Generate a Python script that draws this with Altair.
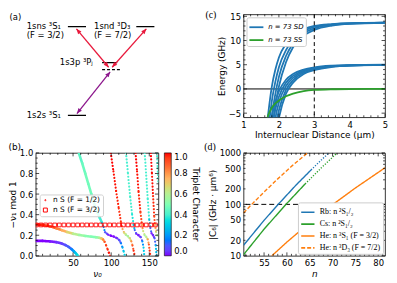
import math
import altair as alt
import pandas as pd

FONT = "DejaVu Sans"
SERIF = "Liberation Serif"
BLUE, GREEN, ORANGE = "#1f77b4", "#2ca02c", "#ff7f0e"
W_L, W_R, H = 124, 143, 104

# ---------------- (a) level scheme (diagram units) ----------------
a_level_x0 = [68, 136, 102, 102, 68]
a_level_x1 = [86, 154, 117, 120, 86]
a_level_y = [22, 22, 60.5, 68, 117]
a_level_style = ["solid", "solid", "solid", "dashed", "solid"]
a_label_text = ["1sns ³S₁", "(F = 3/2)", "1snd ³D₃", "(F = 7/2)", "1s3p ³Pⱼ", "1s2s ³S₁", "(a)"]
a_label_x = [27, 27, 94, 94, 60, 27, 10]
a_label_y = [21, 31.5, 21, 31.5, 60, 117, 12]
a_arrow_x0 = [108.5, 112, 110]
a_arrow_y0 = [65.5, 65.5, 70.5]
a_arrow_x1 = [76.5, 146, 77]
a_arrow_y1 = [24.5, 24.5, 115]
a_arrow_color = ["#e8193c", "#e8193c", "#8c168c"]

# ---------------- (b) Lu-Fano style branches ----------------
b_br1_nu = [1, 10, 20, 28, 35, 40, 44, 48, 51, 53, 55, 56.5]
b_br1_y = [0.145, 0.145, 0.14, 0.133, 0.12, 0.105, 0.088, 0.065, 0.045, 0.03, 0.012, 0.0]
b_br1_t = [0, 0, 0, 0.02, 0.04, 0.07, 0.1, 0.15, 0.2, 0.25, 0.32, 0.36]

b_br2_nu = [57.5, 62, 66, 70, 74, 78, 82, 85, 88, 90, 92, 96, 100, 104, 108, 111, 113, 115, 116.5, 118]
b_br2_y = [1.0, 0.9, 0.8, 0.7, 0.6, 0.5, 0.42, 0.37, 0.32, 0.28, 0.23, 0.205, 0.195, 0.185, 0.17, 0.15, 0.12, 0.08, 0.04, 0.0]
b_br2_t = [0.42, 0.45, 0.47, 0.48, 0.47, 0.45, 0.43, 0.4, 0.35, 0.25, 0.12, 0.03, 0, 0, 0.02, 0.06, 0.12, 0.2, 0.28, 0.35]

b_br3_nu = [1, 10, 20, 28, 35, 42, 50, 58, 66, 74, 80, 84, 87, 89.5, 91.5, 93.5, 95.5, 97, 98.5]
b_br3_y = [0.305, 0.3, 0.287, 0.268, 0.25, 0.232, 0.215, 0.203, 0.193, 0.186, 0.181, 0.176, 0.17, 0.158, 0.135, 0.1, 0.06, 0.03, 0.0]
b_br3_t = [1, 0.98, 0.93, 0.86, 0.8, 0.72, 0.64, 0.57, 0.52, 0.5, 0.5, 0.55, 0.65, 0.78, 0.88, 0.94, 0.97, 0.99, 1]

b_br4_nu = [99.5, 103, 106.5, 110, 113, 115, 117, 119.5, 122, 124.5, 126.5, 128, 129.5, 131]
b_br4_y = [1.0, 0.82, 0.63, 0.46, 0.32, 0.26, 0.225, 0.205, 0.19, 0.17, 0.14, 0.1, 0.05, 0.0]
b_br4_t = [1, 1, 0.99, 0.98, 0.96, 0.85, 0.72, 0.62, 0.56, 0.6, 0.75, 0.88, 0.95, 1]

b_br5_nu = [119.5, 122, 125, 127.5, 129.5, 131, 133, 136, 139, 141, 142.5, 143.5]
b_br5_y = [1.0, 0.8, 0.57, 0.4, 0.3, 0.25, 0.215, 0.2, 0.18, 0.14, 0.08, 0.0]
b_br5_t = [0.38, 0.4, 0.4, 0.38, 0.33, 0.2, 0.05, 0.0, 0.02, 0.12, 0.25, 0.35]

b_br6_nu = [132, 134, 136, 138.5, 140.5, 142, 144, 146, 148, 149.5, 150.5, 151.5]
b_br6_y = [1.0, 0.82, 0.62, 0.42, 0.3, 0.24, 0.2, 0.185, 0.16, 0.11, 0.05, 0.0]
b_br6_t = [1, 1, 0.99, 0.97, 0.9, 0.72, 0.58, 0.55, 0.7, 0.88, 0.96, 1]

b_br7_nu = [144, 146, 148, 150, 151.5, 153, 155, 157, 158.5, 159.5]
b_br7_y = [1.0, 0.78, 0.55, 0.35, 0.27, 0.22, 0.2, 0.17, 0.1, 0.0]
b_br7_t = [0.38, 0.4, 0.4, 0.36, 0.2, 0.03, 0.0, 0.05, 0.2, 0.35]

b_br8_nu = [152, 153.5, 155, 156.5, 157.5, 159, 160.5, 162]
b_br8_y = [1.0, 0.8, 0.58, 0.38, 0.3, 0.23, 0.2, 0.19]
b_br8_t = [1, 1, 0.99, 0.96, 0.88, 0.68, 0.58, 0.55]

b_br9_nu = [160, 161, 162]
b_br9_y = [1.0, 0.85, 0.7]
b_br9_t = [0.38, 0.4, 0.4]

b_sq_nu = [2, 8, 14, 20, 26, 32, 38, 44, 50, 56, 62, 68, 74, 80, 86, 92, 98,
           104, 110, 116, 122, 128, 134, 140, 146, 152, 158]
b_sq_level = 0.3
B_L1 = "n S (F = 1/2)"
B_L2 = "n S (F = 3/2)"

# ---------------- (c) pair potentials ----------------
c_R = [1.6, 1.7, 1.8, 1.9, 2.0, 2.2, 2.4, 2.7, 3.0, 3.5, 4.0, 5.0]
c_SD = [
    [-12, -5, 0.5, 4.0, 6.5, 9.3, 11.0, 12.3, 13.0, 13.4, 13.6, 13.7],
    [-16, -8.5, -2.5, 1.5, 4.5, 8.0, 10.2, 11.9, 12.8, 13.35, 13.55, 13.7],
    [-20, -12, -5.5, -1, 2.5, 6.8, 9.4, 11.5, 12.5, 13.25, 13.5, 13.7],
    [-25, -16, -9, -3.5, 0.5, 5.5, 8.6, 11.0, 12.2, 13.1, 13.45, 13.65],
    [-25, -13, -6, -2.6, -0.5, 1.9, 3.1, 4.0, 4.45, 4.8, 4.92, 5.0],
    [-30, -17, -8.5, -4.2, -1.6, 1.3, 2.7, 3.8, 4.3, 4.72, 4.88, 4.98],
    [-34, -20, -11, -6, -2.8, 0.6, 2.3, 3.6, 4.2, 4.68, 4.86, 4.97],
    [-38, -24, -14, -8, -4.4, -0.2, 1.8, 3.35, 4.05, 4.6, 4.83, 4.96],
    [-42, -28, -17, -10, -6, -1.0, 1.3, 3.1, 3.9, 4.55, 4.8, 4.95],
]
c_SS = [-8, -5.4, -3.9, -3.0, -2.4, -1.5, -0.95, -0.45, -0.2, -0.06, -0.02, 0.0]
C_SD = "n = 73 SD"
C_SS = "n = 73 SS"

# ---------------- (d) C6 coefficients ----------------
D_RB = "Rb: n ²S₁/₂"
D_CS = "Cs: n ²S₁/₂"
D_HES = "He: n ³S₁ (F = 3/2)"
D_HED = "He: n ³D₃ (F = 7/2)"
d_rb_n = [50.5, 55, 58.1, 62, 65.3]
d_rb_c6 = [16, 49, 100, 237, 467]
d_rb_dot_n = [65.3, 67.2, 69.2]
d_rb_dot_c6 = [467, 682, 1000]
d_cs_n = [50.5, 55, 59.8, 64]
d_cs_c6 = [10.5, 33, 100, 250]
d_cs_dot_n = [64, 67.5, 71]
d_cs_dot_c6 = [250, 508, 1000]
d_hes_n = [56.7, 60, 65, 70.1, 75, 81.5]
d_hes_c6 = [10, 18.5, 44, 100, 208, 515]
d_hed_n = [50.5, 52.3, 55, 58, 61, 64.5]
d_hed_c6 = [68, 100, 174, 313, 548, 1000]

rainbow = ["#8000ff", "#4062fa", "#00b4ec", "#40ecd4", "#80ffb4",
           "#c0ec8e", "#ffb462", "#ff6232", "#ff0000"]
rainbow_stops = [0, 0.125, 0.25, 0.375, 0.5, 0.625, 0.75, 0.875, 1.0]


def inward_ticks(xs, ys, xa, ya, xmaj, xmin, ymaj, ymin, w, h):
    out = []
    for vals, L in ((xmaj, 3.5), (xmin, 2.0)):
        d = pd.DataFrame({"tv": vals})
        for y0, y1 in ((h, h - L), (0, L)):
            out.append(alt.Chart(d).mark_rule(color="black", strokeWidth=0.7).encode(
                x=alt.X("tv:Q", scale=xs, axis=xa), y=alt.value(y0), y2=alt.value(y1)))
    for vals, L in ((ymaj, 3.5), (ymin, 2.0)):
        d = pd.DataFrame({"tv": vals})
        for x0, x1 in ((0, L), (w, w - L)):
            out.append(alt.Chart(d).mark_rule(color="black", strokeWidth=0.7).encode(
                y=alt.Y("tv:Q", scale=ys, axis=ya), x=alt.value(x0), x2=alt.value(x1)))
    return out


# ======================= panel (a) =======================
a_xs = alt.Scale(domain=[36, 158], nice=False, zero=False)
a_ys = alt.Scale(domain=[9, 119], nice=False, zero=False, reverse=True)
sx = W_L / (158 - 36)
sy = H / (119 - 9)

lev_df = pd.DataFrame({"x0": a_level_x0, "x1": a_level_x1, "y": a_level_y, "st": a_level_style})
lab_df = pd.DataFrame({"x": a_label_x, "y": a_label_y, "text": a_label_text})
arr_df = pd.DataFrame({"x0": a_arrow_x0, "y0": a_arrow_y0, "x1": a_arrow_x1,
                       "y1": a_arrow_y1, "color": a_arrow_color})
heads = []
for x0, y0, x1, y1, col in zip(a_arrow_x0, a_arrow_y0, a_arrow_x1, a_arrow_y1, a_arrow_color):
    vx, vy = (x1 - x0) * sx, (y1 - y0) * sy
    ang = math.degrees(math.atan2(vx, -vy)) % 360
    heads.append({"x": x1, "y": y1, "ang": ang, "color": col})
    heads.append({"x": x0, "y": y0, "ang": (ang + 180) % 360, "color": col})
head_df = pd.DataFrame(heads)
HEAD = "M0,0L-0.42,1L0.42,1Z"

a_levels = alt.Chart(lev_df).mark_rule(color="black", strokeWidth=1.3).encode(
    x=alt.X("x0:Q", scale=a_xs, axis=None), x2="x1:Q",
    y=alt.Y("y:Q", scale=a_ys, axis=None),
    strokeDash=alt.StrokeDash("st:N", scale=alt.Scale(domain=["solid", "dashed"], range=[[1, 0], [3, 2]]), legend=None))
a_labels = alt.Chart(lab_df).mark_text(align="left", baseline="middle", font=FONT, fontSize=8.5, color="black").encode(
    x=alt.X("x:Q", scale=a_xs, axis=None), y=alt.Y("y:Q", scale=a_ys, axis=None), text="text:N")
a_arrows = alt.Chart(arr_df).mark_rule(strokeWidth=1.3).encode(
    x=alt.X("x0:Q", scale=a_xs, axis=None), y=alt.Y("y0:Q", scale=a_ys, axis=None),
    x2="x1:Q", y2="y1:Q", color=alt.Color("color:N", scale=None))
a_heads = alt.Chart(head_df).mark_point(shape=HEAD, filled=True, size=110, opacity=1).encode(
    x=alt.X("x:Q", scale=a_xs, axis=None), y=alt.Y("y:Q", scale=a_ys, axis=None),
    angle=alt.Angle("ang:Q", scale=None), color=alt.Color("color:N", scale=None))
panel_a = alt.layer(a_levels, a_arrows, a_heads, a_labels).properties(
    width=W_L, height=H, view=alt.ViewBackground(strokeOpacity=0))

# ======================= panel (b) =======================
b_xs = alt.Scale(domain=[1, 162], nice=False, zero=False)
b_ys = alt.Scale(domain=[0, 1], nice=False, zero=False)
b_xa = alt.Axis(values=[50, 100, 150], title="ν₀", titleFontStyle="italic")
b_ya = alt.Axis(values=[0, 0.2, 0.4, 0.6, 0.8, 1.0], format=".1f", title="−ν₁ mod 1")
branches = [
    (b_br1_nu, b_br1_y, b_br1_t), (b_br2_nu, b_br2_y, b_br2_t), (b_br3_nu, b_br3_y, b_br3_t),
    (b_br4_nu, b_br4_y, b_br4_t), (b_br5_nu, b_br5_y, b_br5_t), (b_br6_nu, b_br6_y, b_br6_t),
    (b_br7_nu, b_br7_y, b_br7_t), (b_br8_nu, b_br8_y, b_br8_t), (b_br9_nu, b_br9_y, b_br9_t),
]
rows = []
for nu, yy, tt in branches:
    for i in range(len(nu) - 1):
        if nu[i] < 88:
            st = "s"
        else:
            slope = abs(yy[i + 1] - yy[i]) / max(abs(nu[i + 1] - nu[i]), 1e-6)
            st = "d" if slope > 0.015 else "c"
        rows.append({"x": nu[i], "y": yy[i], "x2": nu[i + 1], "y2": yy[i + 1],
                     "t": (tt[i] + tt[i + 1]) / 2, "st": st})
seg_df = pd.DataFrame(rows)
sq_df = pd.DataFrame({"x": b_sq_nu, "y": [b_sq_level] * len(b_sq_nu), "series": [B_L2] * len(b_sq_nu)})

cbar = alt.Legend(title="Triplet Character", orient="right", direction="vertical", offset=6,
                  gradientLength=H, gradientThickness=7, values=[0, 0.2, 0.4, 0.6, 0.8, 1.0],
                  format=".1f", titleOrient="right", titlePadding=3, labelOffset=3,
                  labelFontSize=8.5, titleFontSize=9, titleFontWeight="normal",
                  gradientStrokeColor="black", gradientStrokeWidth=0.6, labelOverlap=False, padding=0)
b_segs = alt.Chart(seg_df).mark_rule(strokeCap="round", clip=True).encode(
    x=alt.X("x:Q", scale=b_xs, axis=b_xa),
    y=alt.Y("y:Q", scale=b_ys, axis=b_ya),
    x2="x2:Q", y2="y2:Q",
    color=alt.Color("t:Q", scale=alt.Scale(domain=rainbow_stops, range=rainbow), legend=cbar),
    strokeDash=alt.StrokeDash("st:N", scale=alt.Scale(domain=["s", "c", "d"], range=[[1, 0], [0.01, 2.3], [0.01, 3.3]]), legend=None),
    strokeWidth=alt.StrokeWidth("st:N", scale=alt.Scale(domain=["s", "c", "d"], range=[2.6, 2.2, 2.1]), legend=None),
)
DOT = "M0,-0.3A0.3,0.3,0,1,1,0,0.3A0.3,0.3,0,1,1,0,-0.3Z"
shape_leg = alt.Legend(title=None, orient="none", legendX=4, legendY=42,
                       fillColor="rgba(255,255,255,0.85)", strokeColor="#d0d0d0", padding=2,
                       cornerRadius=2, symbolStrokeColor="#ff0000", symbolStrokeWidth=1,
                       symbolSize=16, labelFont=FONT, labelFontSize=7.5, rowPadding=1, labelOffset=4)
b_sq = alt.Chart(sq_df).mark_point(filled=False, color="#ff0000", size=14, strokeWidth=0.9, opacity=1, clip=True).encode(
    x=alt.X("x:Q", scale=b_xs, axis=b_xa), y=alt.Y("y:Q", scale=b_ys, axis=b_ya),
    shape=alt.Shape("series:N", scale=alt.Scale(domain=[B_L1, B_L2], range=[DOT, "square"]), legend=shape_leg))
b_ticks = inward_ticks(b_xs, b_ys, b_xa, b_ya, [50, 100, 150], [v for v in range(10, 161, 10) if v % 50],
                       [0, 0.2, 0.4, 0.6, 0.8, 1.0], [round(0.05 * k, 2) for k in range(1, 20) if k % 4],
                       W_L, H)
panel_b = alt.layer(b_segs, b_sq, *b_ticks).properties(
    width=W_L, height=H,
    title=alt.TitleParams("(b)", anchor="start", frame="bounds", font=FONT, fontSize=9,
                          fontWeight="normal", offset=0, dy=3))

# ======================= panel (c) =======================
c_xs = alt.Scale(domain=[1, 5], nice=False, zero=False)
c_ys = alt.Scale(domain=[-5.85, 15.4], nice=False, zero=False)
c_xa = alt.Axis(values=[1, 2, 3, 4, 5], title="Internuclear Distance (μm)")
c_ya = alt.Axis(values=[-5, 0, 5, 10, 15], format="d", title="Energy (GHz)")
crow = []
for k, curve in enumerate(c_SD):
    for r, e in zip(c_R, curve):
        crow.append({"R": r, "E": e, "series": C_SD, "curve": f"sd{k}"})
for r, e in zip(c_R, c_SS):
    crow.append({"R": r, "E": e, "series": C_SS, "curve": "ss"})
c_df = pd.DataFrame(crow)
c_leg = alt.Legend(title=None, orient="top-left", offset=3, fillColor="white", strokeColor="#cccccc",
                   padding=2, cornerRadius=2, symbolType="stroke", symbolStrokeWidth=1.8,
                   symbolSize=200, labelFont=FONT, labelFontSize=7, labelFontStyle="italic",
                   rowPadding=1, labelOffset=4)
c_lines = alt.Chart(c_df).mark_line(clip=True, strokeWidth=1.8, interpolate="monotone").encode(
    x=alt.X("R:Q", scale=c_xs, axis=c_xa),
    y=alt.Y("E:Q", scale=c_ys, axis=c_ya),
    color=alt.Color("series:N", scale=alt.Scale(domain=[C_SD, C_SS], range=[BLUE, GREEN]), legend=c_leg),
    detail="curve:N")
c_zero = alt.Chart(pd.DataFrame({"E": [0]})).mark_rule(color="black", strokeWidth=1).encode(
    y=alt.Y("E:Q", scale=c_ys, axis=c_ya))
c_vline = alt.Chart(pd.DataFrame({"R": [3]})).mark_rule(color="black", strokeWidth=1, strokeDash=[4, 3]).encode(
    x=alt.X("R:Q", scale=c_xs, axis=c_xa))
c_ticks = inward_ticks(c_xs, c_ys, c_xa, c_ya, [1, 2, 3, 4, 5], [round(1 + 0.2 * k, 1) for k in range(1, 20) if k % 5],
                       [-5, 0, 5, 10, 15], [v for v in range(-5, 16) if v % 5], W_R, H)
panel_c = alt.layer(c_zero, c_lines, c_vline, *c_ticks).properties(
    width=W_R, height=H,
    title=alt.TitleParams("(c)", anchor="start", frame="bounds", font=SERIF, fontSize=10,
                          fontWeight="normal", offset=0, dx=-12, dy=8))

# ======================= panel (d) =======================
d_xs = alt.Scale(domain=[50.5, 81.5], nice=False, zero=False)
d_ys = alt.Scale(type="log", domain=[10, 1000], nice=False)
d_xa = alt.Axis(values=[55, 60, 65, 70, 75, 80], title="n", titleFontStyle="italic")
d_ya = alt.Axis(values=[10, 20, 50, 100, 200, 500, 1000], format="d", title="|C₆| (GHz · μm⁶)")
drows = []
for name, ns, cs in ((D_RB, d_rb_n, d_rb_c6), (D_CS, d_cs_n, d_cs_c6),
                     (D_HES, d_hes_n, d_hes_c6), (D_HED, d_hed_n, d_hed_c6)):
    for n, c in zip(ns, cs):
        drows.append({"n": n, "c6": c, "series": name})
d_df = pd.DataFrame(drows)
dotrows = []
for name, ns, cs in ((D_RB, d_rb_dot_n, d_rb_dot_c6), (D_CS, d_cs_dot_n, d_cs_dot_c6)):
    for n, c in zip(ns, cs):
        dotrows.append({"n": n, "c6": c, "series": name})
dot_df = pd.DataFrame(dotrows)
D_DOM = [D_RB, D_CS, D_HES, D_HED]
d_color = alt.Scale(domain=D_DOM, range=[BLUE, GREEN, ORANGE, ORANGE])
d_leg = alt.Legend(title=None, orient="bottom-right", offset=2, fillColor="white", strokeColor="#cccccc",
                   padding=2, cornerRadius=2, symbolType="stroke", symbolStrokeWidth=1.6,
                   symbolSize=180, labelFont=SERIF, labelFontSize=8, rowPadding=0, labelOffset=4)
d_lines = alt.Chart(d_df).mark_line(clip=True, strokeWidth=1.4).encode(
    x=alt.X("n:Q", scale=d_xs, axis=d_xa),
    y=alt.Y("c6:Q", scale=d_ys, axis=d_ya),
    color=alt.Color("series:N", scale=d_color, legend=d_leg),
    strokeDash=alt.StrokeDash("series:N", scale=alt.Scale(domain=D_DOM, range=[[1, 0], [1, 0], [1, 0], [4, 2]]), legend=d_leg))
d_dots = alt.Chart(dot_df).mark_line(clip=True, strokeWidth=1.4, strokeDash=[1.2, 1.6]).encode(
    x=alt.X("n:Q", scale=d_xs, axis=d_xa), y=alt.Y("c6:Q", scale=d_ys, axis=d_ya),
    color=alt.Color("series:N", scale=d_color, legend=d_leg))
d_hline = alt.Chart(pd.DataFrame({"c6": [100]})).mark_rule(color="black", strokeWidth=1, strokeDash=[5, 3]).encode(
    y=alt.Y("c6:Q", scale=d_ys, axis=d_ya))
d_ticks = inward_ticks(d_xs, d_ys, d_xa, d_ya, [55, 60, 65, 70, 75, 80], [v for v in range(51, 82) if v % 5],
                       [10, 100, 1000], [m * 10 for m in range(2, 10)] + [m * 100 for m in range(2, 10)], W_R, H)
panel_d = alt.layer(d_hline, d_lines, d_dots, *d_ticks).properties(
    width=W_R, height=H,
    title=alt.TitleParams("(d)", anchor="start", frame="bounds", font=SERIF, fontSize=10,
                          fontWeight="normal", offset=0, dx=-4, dy=3))

chart = alt.concat(panel_a, panel_c, panel_b, panel_d, columns=2,
                   spacing={"row": 36, "column": 86}, bounds="flush").resolve_scale(
    color="independent", shape="independent", strokeDash="independent", strokeWidth="independent"
).resolve_legend(
    color="independent", shape="independent", strokeDash="independent", strokeWidth="independent"
).properties(
    padding={"left": 0, "top": 0, "right": 0, "bottom": 0}
).configure(font=FONT).configure_view(stroke="black", strokeWidth=0.8).configure_axis(
    labelFont=FONT, labelFontSize=8.5, labelColor="black", titleFont=FONT, titleFontSize=9,
    titleFontWeight="normal", titleColor="black", ticks=False, domain=False, grid=False,
    labelPadding=3, titlePadding=2, labelFlush=False, labelOverlap=False
).configure_legend(labelFont=FONT, titleFont=FONT, labelColor="black", titleColor="black",
                   titleFontWeight="normal")

chart.save("out.html", embed_options={"renderer": "svg", "actions": False})
